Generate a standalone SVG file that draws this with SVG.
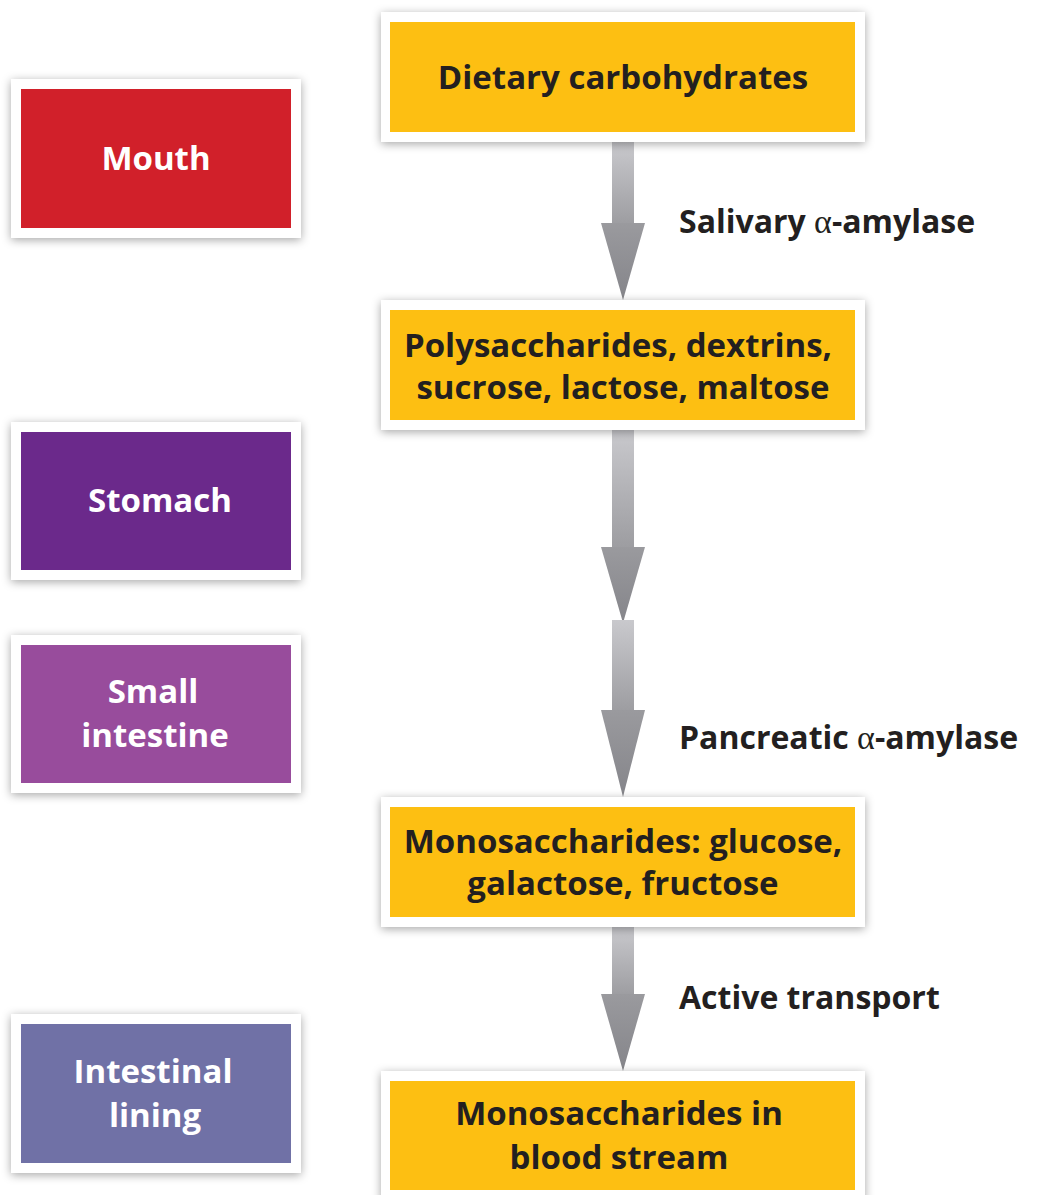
<svg xmlns="http://www.w3.org/2000/svg" width="1046" height="1195" viewBox="0 0 1046 1195">
<defs>
<filter id="sh" x="-10%" y="-20%" width="120%" height="140%"><feDropShadow dx="0" dy="2" stdDeviation="5" flood-color="#000" flood-opacity="0.35"/></filter>
<linearGradient id="shaft" x1="0" y1="0" x2="0" y2="1"><stop offset="0" stop-color="#c9c9cd"/><stop offset="1" stop-color="#9c9ca0"/></linearGradient>
<linearGradient id="hd" x1="0" y1="0" x2="0" y2="1"><stop offset="0" stop-color="#9a9a9e"/><stop offset="1" stop-color="#85858a"/></linearGradient>
<style>
.frame{fill:#fff;filter:url(#sh)}
.y{fill:#fdbf12}
.t{font-family:"Open Sans","Liberation Sans",sans-serif;font-weight:bold;font-size:33px;text-anchor:middle}
.w{fill:#fff}
.k{fill:#231f20}
.lbl{font-family:"Open Sans","Liberation Sans",sans-serif;font-weight:bold;font-size:32px;fill:#231f20}
.a{font-family:"Liberation Serif",serif;font-weight:normal;font-size:34px}
.head{fill:url(#hd)}
</style>
</defs>
<rect width="1046" height="1195" fill="#fff"/>
<g id="connectors">
<rect x="612" y="142" width="22" height="84" fill="url(#shaft)"/>
<polygon class="head" points="601,223 645,223 623,300"/>
<rect x="612" y="430" width="22" height="120" fill="url(#shaft)"/>
<polygon class="head" points="601,547 645,547 623,623"/>
<rect x="612" y="620" width="22" height="93" fill="url(#shaft)"/>
<polygon class="head" points="601,710 645,710 623,797"/>
<rect x="612" y="927" width="22" height="70" fill="url(#shaft)"/>
<polygon class="head" points="601,994 645,994 623,1071"/>
<text class="lbl" x="679" y="233">Salivary <tspan class="a">α</tspan>-amylase</text>
<text class="lbl" x="679" y="749">Pancreatic <tspan class="a">α</tspan>-amylase</text>
<text class="lbl" x="679" y="1009">Active transport</text>
</g>
<g id="mouth"><rect class="frame" x="11" y="79" width="290" height="159"/><rect x="21" y="89" width="270" height="139" fill="#d1202a"/><text class="t w" x="156" y="170">Mouth</text></g>
<g id="stomach"><rect class="frame" x="11" y="422" width="290" height="158"/><rect x="21" y="432" width="270" height="138" fill="#6b298b"/><text class="t w" x="160" y="512">Stomach</text></g>
<g id="small-intestine"><rect class="frame" x="11" y="635" width="290" height="158"/><rect x="21" y="645" width="270" height="138" fill="#984c9c"/><text class="t w" x="153" y="703">Small</text><text class="t w" x="155" y="747">intestine</text></g>
<g id="intestinal-lining"><rect class="frame" x="11" y="1014" width="290" height="159"/><rect x="21" y="1024" width="270" height="139" fill="#7071a6"/><text class="t w" x="153" y="1083">Intestinal</text><text class="t w" x="155" y="1127">lining</text></g>
<g id="dietary"><rect class="frame" x="381" y="12" width="484" height="130"/><rect class="y" x="390" y="22" width="465" height="110"/><text class="t k" x="623" y="89">Dietary carbohydrates</text></g>
<g id="poly"><rect class="frame" x="381" y="300" width="484" height="130"/><rect class="y" x="390" y="310" width="465" height="110"/><text class="t k" x="618" y="357">Polysaccharides, dextrins,</text><text class="t k" x="623" y="399">sucrose, lactose, maltose</text></g>
<g id="mono"><rect class="frame" x="381" y="797" width="484" height="130"/><rect class="y" x="390" y="807" width="465" height="110"/><text class="t k" x="623" y="853">Monosaccharides: glucose,</text><text class="t k" x="623" y="895">galactose, fructose</text></g>
<g id="blood"><rect class="frame" x="381" y="1071" width="484" height="130"/><rect class="y" x="390" y="1081" width="465" height="109"/><text class="t k" x="619" y="1125">Monosaccharides in</text><text class="t k" x="619" y="1169">blood stream</text></g>
</svg>
